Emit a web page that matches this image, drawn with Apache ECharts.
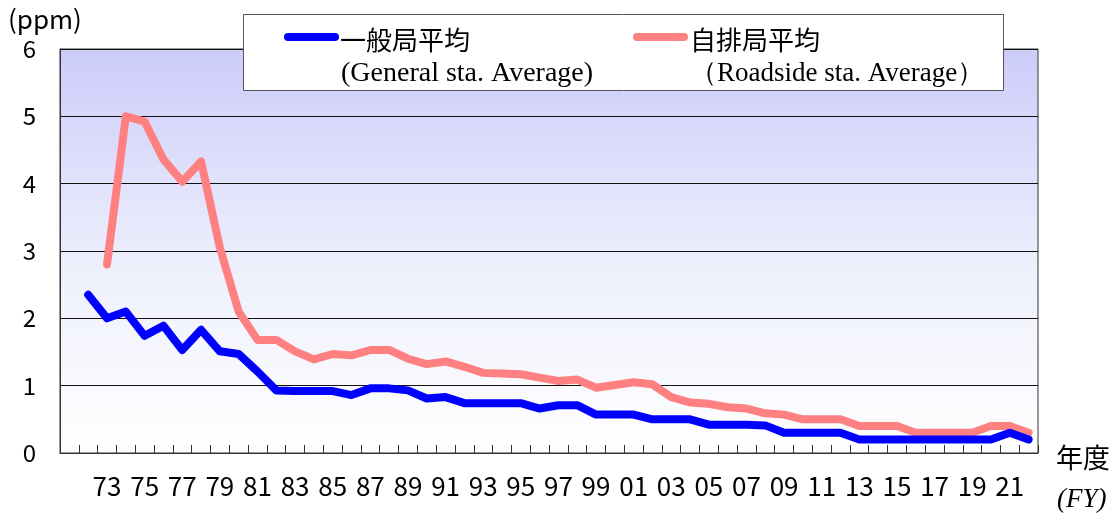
<!DOCTYPE html>
<html>
<head>
<meta charset="utf-8">
<script src="https://cdn.jsdelivr.net/npm/echarts@6/dist/echarts.min.js"></script>
<style>
html,body{margin:0;padding:0;background:#fff;}
#chart{width:1117px;height:513px;}
</style>
</head>
<body>
<div id="chart"></div>
<script>
// Fiscal years (two-digit), 1971 .. 2022
const years = ['71','72','73','74','75','76','77','78','79','80','81','82','83','84','85','86','87','88','89','90','91','92','93','94','95','96','97','98','99','00','01','02','03','04','05','06','07','08','09','10','11','12','13','14','15','16','17','18','19','20','21','22'];
// 一般局平均 (General sta. Average), ppm
const generalAvg = [null,
  2.35, 2.0, 2.1, 1.74, 1.89, 1.53, 1.83, 1.51, 1.47, 1.21,
  0.93, 0.92, 0.92, 0.92, 0.86, 0.96, 0.96, 0.93, 0.81, 0.83,
  0.74, 0.74, 0.74, 0.74, 0.66, 0.71, 0.71, 0.57,
  0.57, 0.57, 0.5, 0.5, 0.5, 0.42, 0.42, 0.42, 0.41, 0.3,
  0.3, 0.3, 0.3, 0.2, 0.2, 0.2, 0.2, 0.2, 0.2, 0.2,
  0.2, 0.3, 0.2];
// 自排局平均 (Roadside sta. Average), ppm
const roadsideAvg = [null, null,
  2.8, 5.0, 4.92, 4.36, 4.03, 4.33, 3.05, 2.1, 1.68,
  1.68, 1.51, 1.39, 1.47, 1.45, 1.53, 1.53, 1.40, 1.32, 1.36,
  1.28, 1.19, 1.18, 1.17, 1.12, 1.07, 1.09, 0.97,
  1.01, 1.05, 1.02, 0.83, 0.75, 0.73, 0.68, 0.66, 0.59, 0.57,
  0.5, 0.5, 0.5, 0.4, 0.4, 0.4, 0.3, 0.3, 0.3, 0.3,
  0.4, 0.4, 0.3];
const seriesNames = ['一般局平均', '自排局平均'];
const seriesNamesEn = ['(General sta. Average)', '（Roadside sta. Average）'];
const seriesColors = ['#0000ff', '#ff8080'];
const yTicks = [0, 1, 2, 3, 4, 5, 6];

const jp = '"Noto Sans CJK JP", "Noto Sans", sans-serif';
const serif = '"Liberation Serif", "DejaVu Serif", serif';

const chart = echarts.init(document.getElementById('chart'), null, {renderer: 'canvas'});

chart.setOption({
  animation: false,
  backgroundColor: '#ffffff',
  grid: {
    left: 60, top: 49, right: 79, bottom: 60,
    show: true,
    borderColor: '#333',
    borderWidth: 1,
    backgroundColor: new echarts.graphic.LinearGradient(0, 0, 0, 1, [
      {offset: 0, color: '#ccccfa'},
      {offset: 0.55, color: '#eef0fc'},
      {offset: 1, color: '#ffffff'}
    ])
  },
  xAxis: {
    type: 'category',
    data: years,
    boundaryGap: true,
    axisLine: {lineStyle: {color: '#333', width: 1}},
    axisTick: {show: true, interval: 0, inside: true, length: 8, lineStyle: {color: '#333'}},
    axisLabel: {
      interval: function (idx) { return idx > 0 && idx % 2 === 0; },
      fontFamily: jp, fontSize: 26, color: '#000', margin: 20
    },
    splitLine: {show: false}
  },
  yAxis: {
    type: 'value',
    min: yTicks[0], max: yTicks[yTicks.length - 1], interval: 1,
    axisLine: {show: true, lineStyle: {color: '#333', width: 1}},
    axisTick: {show: false},
    axisLabel: {fontFamily: jp, fontSize: 24, color: '#000', margin: 24, verticalAlign: 'middle', lineHeight: 24, padding: [4, 0, 0, 0]},
    splitLine: {show: true, lineStyle: {color: '#111', width: 1}}
  },
  series: [
    {
      name: seriesNames[0], type: 'line', data: generalAvg, symbol: 'none',
      connectNulls: false,
      lineStyle: {color: seriesColors[0], width: 8, cap: 'round', join: 'round'},
      itemStyle: {color: seriesColors[0]}, z: 3
    },
    {
      name: seriesNames[1], type: 'line', data: roadsideAvg, symbol: 'none',
      connectNulls: false,
      lineStyle: {color: seriesColors[1], width: 8, cap: 'round', join: 'round'},
      itemStyle: {color: seriesColors[1]}, z: 2
    }
  ],
  graphic: [
    {type: 'text', left: 8, top: 6, style: {text: '(ppm)', font: '26px ' + jp, fill: '#000'}},
    {type: 'text', left: 1056, top: 444, style: {text: '年度', font: '27px ' + jp, fill: '#000'}},
    {type: 'text', left: 1057, top: 486, style: {text: '(FY)', font: 'italic 27px ' + serif, fill: '#000'}},
    {type: 'rect', shape: {x: 243.5, y: 14.5, width: 760, height: 76},
      style: {fill: '#fff', stroke: '#555', lineWidth: 1}, z: 10},
    {type: 'line', shape: {x1: 288, y1: 37, x2: 335, y2: 37},
      style: {stroke: seriesColors[0], lineWidth: 8, lineCap: 'round'}, z: 11},
    {type: 'text', x: 340, y: 40, style: {text: seriesNames[0], font: '26px ' + jp, fill: '#000', verticalAlign: 'middle'}, z: 11},
    {type: 'text', x: 341, y: 74, style: {text: seriesNamesEn[0], font: '28px ' + serif, fill: '#000', verticalAlign: 'middle'}, z: 11},
    {type: 'line', shape: {x1: 637, y1: 37, x2: 684, y2: 37},
      style: {stroke: seriesColors[1], lineWidth: 8, lineCap: 'round'}, z: 11},
    {type: 'text', x: 690, y: 40, style: {text: seriesNames[1], font: '26px ' + jp, fill: '#000', verticalAlign: 'middle'}, z: 11},
    {type: 'text', x: 690, y: 74, style: {text: seriesNamesEn[1], font: '27px ' + serif, fill: '#000', verticalAlign: 'middle'}, z: 11}
  ]
});
</script>
</body>
</html>
